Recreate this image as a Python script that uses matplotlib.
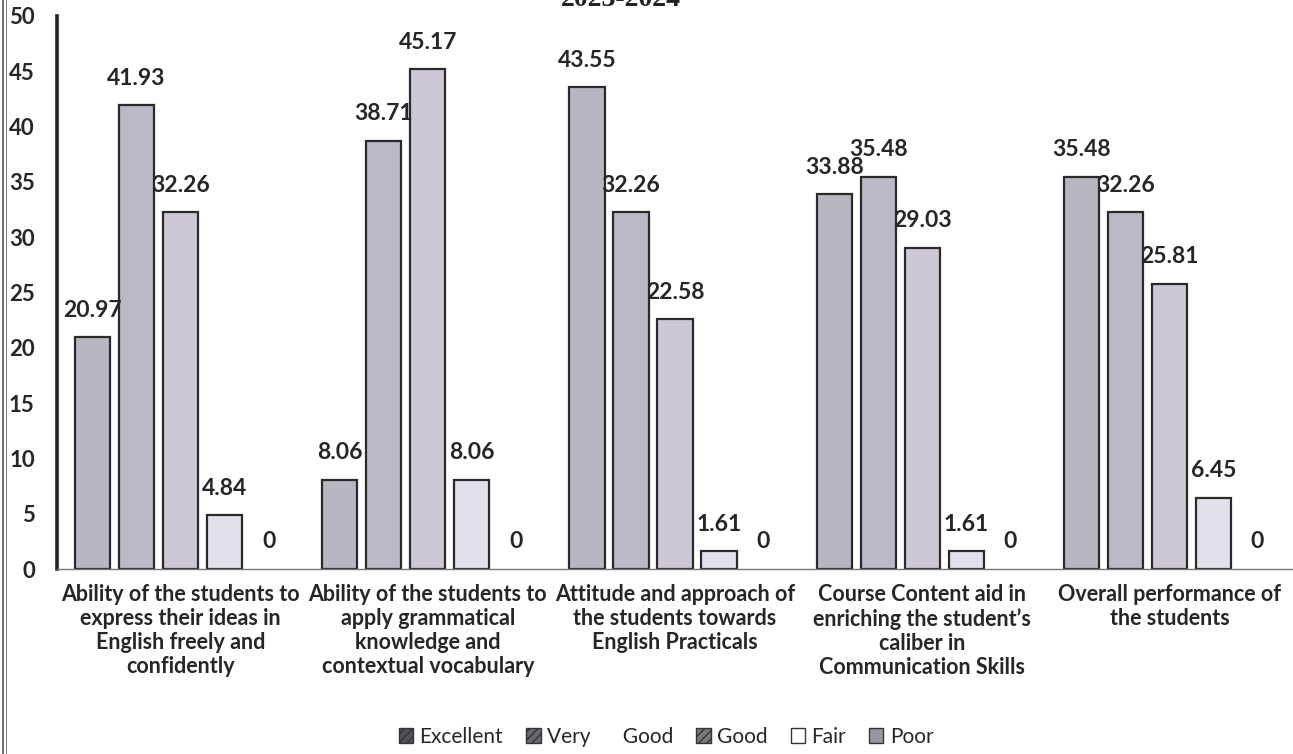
import matplotlib
matplotlib.use("Agg")
import matplotlib.pyplot as plt
import numpy as np
from matplotlib.patches import Patch
from matplotlib.lines import Line2D

categories = [
    "Ability of the students to\nexpress their ideas in\nEnglish freely and\nconfidently",
    "Ability of the students to\napply grammatical\nknowledge and\ncontextual vocabulary",
    "Attitude and approach of\nthe students towards\nEnglish Practicals",
    "Course Content aid in\nenriching the student\u2019s\ncaliber in\nCommunication Skills",
    "Overall performance of\nthe students",
]
series_names = ["Excellent", "Very      Good", "Good", "Fair", "Poor"]
excellent = [20.97, 8.06, 43.55, 33.88, 35.48]
very_good = [41.93, 38.71, 32.26, 35.48, 32.26]
good = [32.26, 45.17, 22.58, 29.03, 25.81]
fair = [4.84, 8.06, 1.61, 1.61, 6.45]
poor = [0, 0, 0, 0, 0]
yticks = [0, 5, 10, 15, 20, 25, 30, 35, 40, 45, 50]
title = "2023-2024"

series = [excellent, very_good, good, fair, poor]
face_colors = ["#b9b5c1", "#bdb8c6", "#cdc8d4", "#e4e0ea", "#c8c3cf"]
legend_faces = ["#555058", "#6a6670", "#7a767e", "#ffffff", "#9a96a0"]

plt.rcParams['font.family'] = ['Lato', 'DejaVu Sans']

fig = plt.figure(figsize=(12.93, 7.54), dpi=100)
ax = fig.add_axes([57/1293, 185/754, 1 - 57/1293, (569-16)/754])

x = np.arange(len(categories))
slot = 0.178
width = 0.142
for i, vals in enumerate(series):
    pos = x + (i - 2) * slot
    lws = [1.6 if v > 0 else 0 for v in vals]
    ax.bar(pos, vals, width=width, color=face_colors[i], edgecolor="#2a2a2a",
           linewidth=lws, zorder=2)
    for p, v in zip(pos, vals):
        ax.annotate(f"{v:g}", (p, v), xytext=(0, 27),
                    textcoords="offset pixels",
                    ha="center", va="center", fontsize=16.5, fontweight="bold",
                    color="#262626")

ax.set_xlim(-0.5, 4.5)
ax.set_ylim(0, 50)
ax.set_yticks(yticks)
ax.set_yticklabels([str(t) for t in yticks], fontsize=16, fontweight="bold", color="#262626")
ax.tick_params(axis="y", length=0, pad=16)
ax.tick_params(axis="x", length=0, pad=11)
ax.set_xticks(x)
ax.set_xticklabels(categories, fontsize=15.5, fontweight="bold", color="#262626",
                   linespacing=1.17)
for s in ["top", "right"]:
    ax.spines[s].set_visible(False)
ax.spines["left"].set_linewidth(2.6)
ax.spines["left"].set_color("#222222")
ax.spines["bottom"].set_linewidth(1.0)
ax.spines["bottom"].set_color("#777777")

fig.text(621/1293, 1.0, title, ha="center", va="center", fontsize=20,
         fontweight="bold", family=["Liberation Serif", "DejaVu Serif"], color="#222222")

handles = [Patch(facecolor=legend_faces[i], edgecolor="#333333", hatch="////" if i < 3 else None,
                 linewidth=1.0) for i in range(5)]
leg = fig.legend(handles, series_names, loc="center", bbox_to_anchor=(666/1293, 1 - 737/754),
                 ncol=5, frameon=False, fontsize=15, handlelength=0.7, handleheight=0.7,
                 handletextpad=0.3, columnspacing=1.1)
for t in leg.get_texts():
    t.set_color("#262626")

# scan edge lines
fig.add_artist(Line2D([3/1293, 3/1293], [0, 1], color="#555555", linewidth=1.2))
fig.add_artist(Line2D([6/1293, 6/1293], [0, 1], color="#888888", linewidth=0.8))

fig.savefig("out.png", dpi=100)
